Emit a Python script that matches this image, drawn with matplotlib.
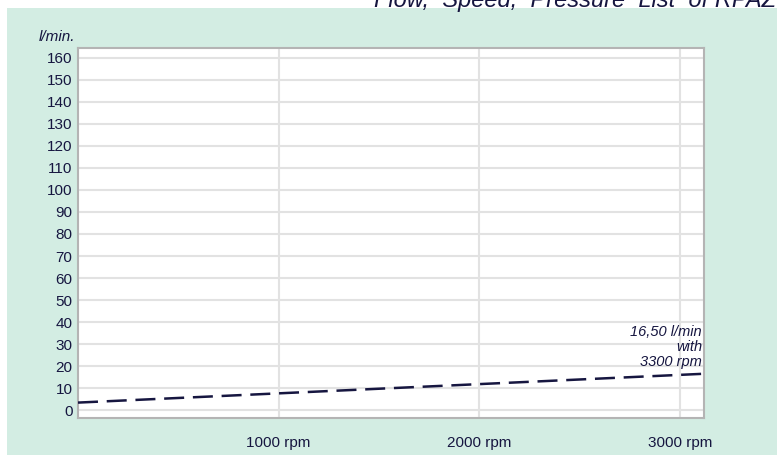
import matplotlib
matplotlib.use("Agg")
import matplotlib.pyplot as plt
from matplotlib.patches import Rectangle

plt.rcParams['font.family'] = ['Liberation Sans', 'DejaVu Sans']

# Data
rpm = [0, 3120]
flow = [3.4, 16.5]
y_ticks = list(range(0, 170, 10))
x_ticks = [1000, 2000, 3000]
x_tick_labels = ["1000 rpm", "2000 rpm", "3000 rpm"]
title = "Flow,  Speed,  Pressure  List  of RPAZ"
annotation = "16,50 l/min\nwith\n3300 rpm"
y_unit = "l/min."

W, H = 777, 455
fig = plt.figure(figsize=(W / 100, H / 100), dpi=100)
fig.patch.set_facecolor("white")

bg = Rectangle((7 / W, 0), 1 - 7 / W, 1 - 8 / H, transform=fig.transFigure,
               facecolor="#d3ede3", edgecolor="none", zorder=-5)
fig.patches.append(bg)

navy = "#161640"
left, right, top, bottom = 78, 704, 48, 418
ax = fig.add_axes([left / W, 1 - bottom / H, (right - left) / W, (bottom - top) / H])
ax.set_facecolor("white")
ax.set_xlim(0, 3120)
ax.set_ylim(-3.6, 164.5)

ax.set_yticks(y_ticks)
ax.set_yticklabels([str(v) for v in y_ticks])
ax.set_xticks(x_ticks)
ax.set_xticklabels(x_tick_labels)
ax.tick_params(axis="both", length=0, labelsize=11, colors=navy)
ax.tick_params(axis="y", pad=4)
ax.tick_params(axis="x", pad=13)
ax.grid(True, color="#e2e2e2", linewidth=1.5)
ax.set_axisbelow(True)
for s in ax.spines.values():
    s.set_color("#b4b4b4")
    s.set_linewidth(1.5)

ax.plot(rpm, flow, color=navy, linewidth=1.8, dashes=(8, 3.5), zorder=3)

ax.text(3110, 18.6, annotation, ha="right", va="bottom", fontsize=10.5,
        style="italic", color=navy, linespacing=1.1)

fig.text(75 / W, 1 - 37 / H, y_unit, ha="right", va="center", fontsize=11,
         style="italic", color=navy)
fig.text(374 / W, 1 - 6.5 / H, title, ha="left", va="baseline", fontsize=17,
         style="italic", color=navy)

fig.savefig("out.png", dpi=100, facecolor=fig.get_facecolor())
